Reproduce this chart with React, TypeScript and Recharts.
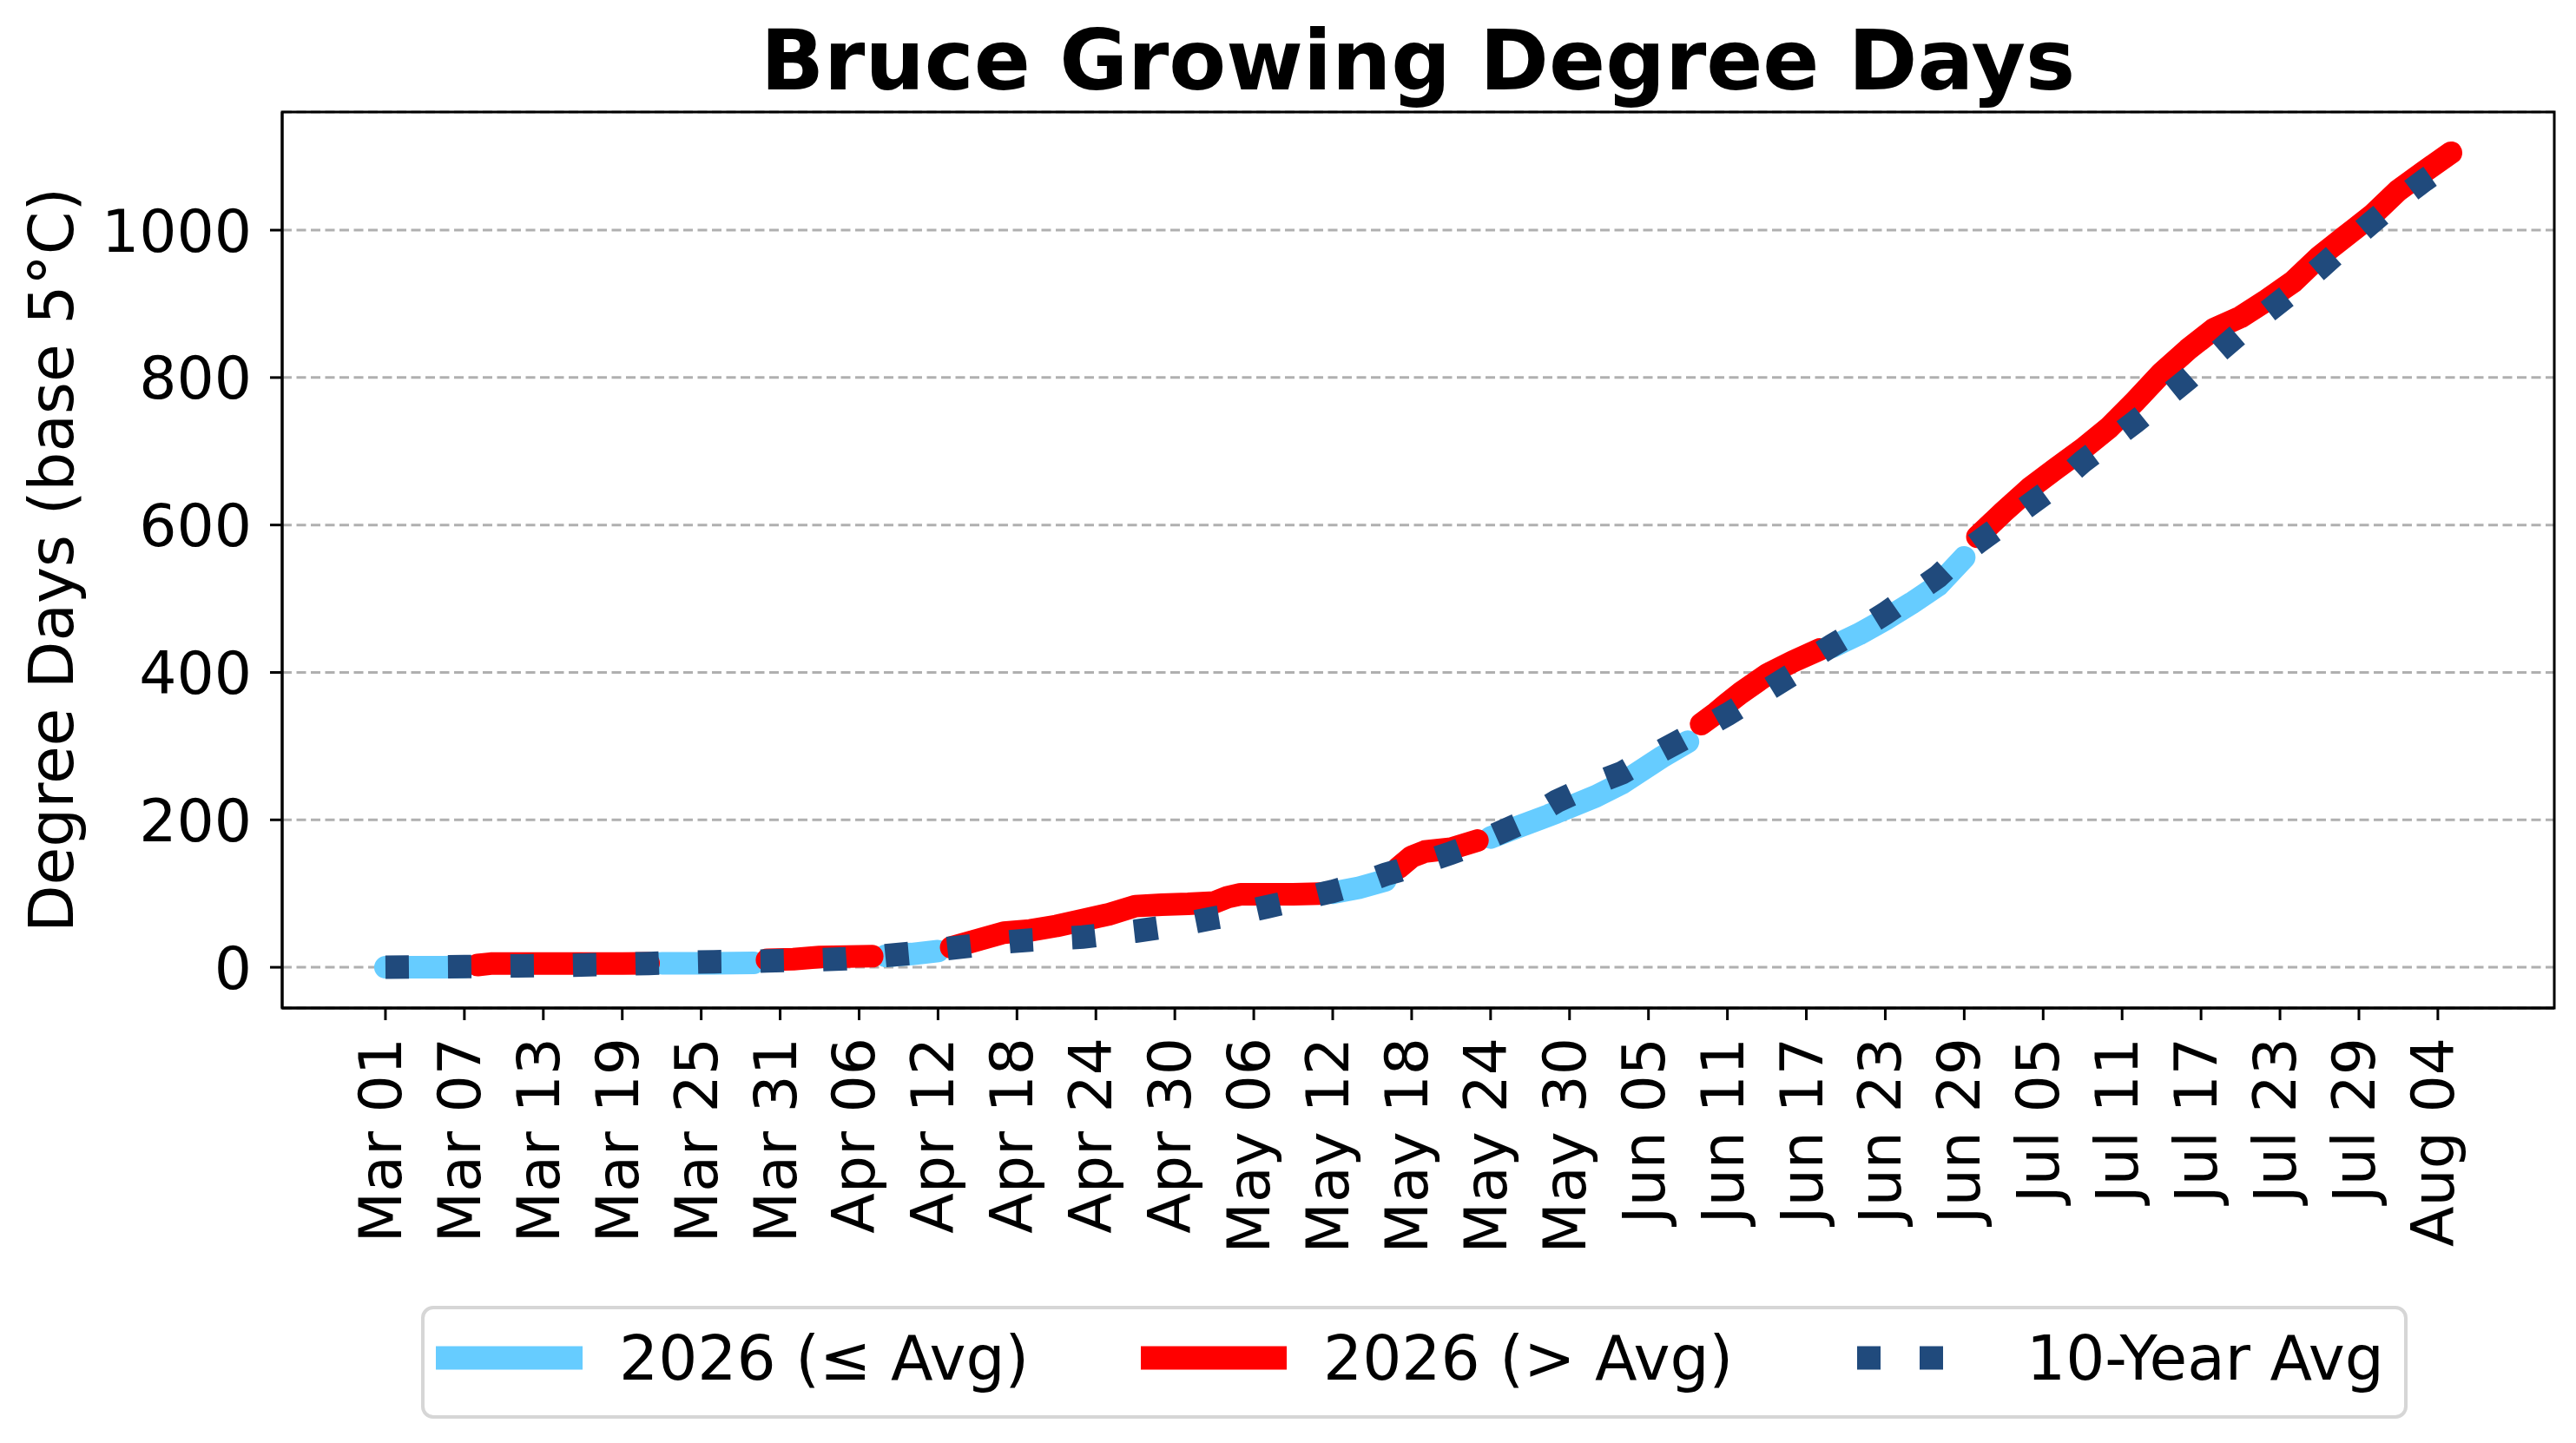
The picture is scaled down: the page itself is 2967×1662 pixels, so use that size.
import React from 'react';
import { LineChart, Line, XAxis, YAxis, CartesianGrid, ReferenceArea } from 'recharts';

// ---- data (day index from Mar 01) ----
const days = [
  0, 3, 6, 7, 8, 10, 14, 18, 20, 21, 25, 28, 29, 31, 33, 35, 37, 38, 40, 42,
  43, 45, 47, 49, 51, 53, 55, 57, 59, 61, 63, 64, 65, 67, 69, 71, 72, 74, 76, 77,
  78, 79, 81, 83, 84, 86, 89, 92, 94, 97, 99, 100, 101, 102, 103, 105, 107, 109, 110, 112,
  114, 116, 118, 120, 121, 123, 125, 127, 129, 131, 133, 135, 137, 139, 141, 143, 145, 147, 149, 151,
  153, 155, 157,
];
const gdd2026 = [
  0, 0, 0.5, 3, 5, 5, 5, 5, 5.5, 5.5, 5.5, 6, 10, 11, 14, 14.5, 15, 15.5, 18, 22,
  27, 37, 47, 50, 56, 64, 72, 83, 85, 86, 88, 95, 99, 99, 99, 100, 101, 108, 118, 135,
  150, 157, 161, 172, 176, 190, 210, 232, 250, 285, 306, 330, 343, 358, 372, 397, 415, 431, 435, 452,
  472, 494, 518, 556, 584, 618, 650, 677, 703, 732, 768, 806, 838, 866, 882, 905, 930, 964, 992, 1020,
  1054, 1080, 1105,
];
const avg10 = [
  0, 0.5, 1, 1.2, 1.4, 2, 2.8, 4.3, 5.1, 5.8, 7.6, 8.3, 8.6, 9.4, 10.2, 11.5, 14, 15.8, 19, 24,
  26, 30, 34, 37, 39, 41, 45, 49, 54, 60, 67, 70, 74, 82, 90, 99, 103, 113, 126, 131,
  137, 143, 155, 168, 177, 193, 225, 250, 264, 294, 313, 323, 333, 343, 354, 376, 398, 426, 437, 458,
  480, 505, 530, 563, 576, 602, 628, 654, 686, 713, 740, 769, 798, 830, 861, 889, 917, 948, 980, 1011,
  1041, 1068, 1093,
];

const xTicks = [0, 6, 12, 18, 24, 30, 36, 42, 48, 54, 60, 66, 72, 78, 84, 90, 96, 102, 108, 114, 120, 126, 132, 138, 144, 150, 156];
const xTickLabels = [
  'Mar 01', 'Mar 07', 'Mar 13', 'Mar 19', 'Mar 25', 'Mar 31', 'Apr 06', 'Apr 12', 'Apr 18', 'Apr 24',
  'Apr 30', 'May 06', 'May 12', 'May 18', 'May 24', 'May 30', 'Jun 05', 'Jun 11', 'Jun 17', 'Jun 23',
  'Jun 29', 'Jul 05', 'Jul 11', 'Jul 17', 'Jul 23', 'Jul 29', 'Aug 04',
];
const yTicks = [0, 200, 400, 600, 800, 1000];

const TITLE = 'Bruce Growing Degree Days';
const Y_LABEL = 'Degree Days (base 5°C)';
const LEGEND_LABELS = ['2026 (≤ Avg)', '2026 (> Avg)', '10-Year Avg'];

// ---- styles ----
const FONT = '"DejaVu Sans", "Liberation Sans", sans-serif';
const BLUE = '#66ccff';
const RED = '#ff0000';
const NAVY = '#204a7c';
const W = 2967;
const H = 1662;

const rows = days.map((d, i) => {
  const g = gdd2026[i];
  const a = avg10[i];
  return {
    day: d,
    below: g <= a ? g : null,
    above: g > a ? g : null,
    avg: a,
  };
});

const xMax = Math.max(...days);
const xMin = Math.min(...days);
const xPad = (xMax - xMin) * 0.05;
const xDomain: [number, number] = [xMin - xPad, xMax + xPad];
const yMaxData = Math.max(...gdd2026, ...avg10);
const yPad = yMaxData * 0.05;
const yDomain: [number, number] = [0 - yPad, yMaxData + yPad];

const XTick = (props: any) => {
  const { x, y, payload } = props;
  const i = xTicks.indexOf(payload.value);
  return (
    <text
      x={x}
      y={y}
      dy={18}
      transform={`rotate(-90, ${x}, ${y})`}
      textAnchor="end"
      fontFamily={FONT}
      fontSize={68}
      fill="#000"
    >
      {i >= 0 ? xTickLabels[i] : ''}
    </text>
  );
};

const YTick = (props: any) => {
  const { x, y, payload } = props;
  return (
    <text x={x} y={y} dy="0.36em" textAnchor="end" fontFamily={FONT} fontSize={68} fill="#000">
      {payload.value}
    </text>
  );
};

const Overlay = () => (
  <svg
    width={W}
    height={H}
    style={{ position: 'absolute', left: 0, top: 0, pointerEvents: 'none' }}
  >
    <text x={1633} y={103} textAnchor="middle" fontFamily={FONT} fontWeight="bold" fontSize={96} fill="#000">
      {TITLE}
    </text>
    <text
      x={84}
      y={645}
      transform="rotate(-90, 84, 645)"
      textAnchor="middle"
      fontFamily={FONT}
      fontSize={71}
      fill="#000"
    >
      {Y_LABEL}
    </text>
    <g>
      <rect x={487} y={1506} width={2284} height={126} rx={12} ry={12} fill="#fff" fillOpacity={0.8} stroke="#d6d6d6" strokeWidth={4} />
      <line x1={502} y1={1564} x2={671} y2={1564} stroke={BLUE} strokeWidth={27} />
      <text x={713} y={1589} fontFamily={FONT} fontSize={71} fill="#000">{LEGEND_LABELS[0]}</text>
      <line x1={1314} y1={1564} x2={1482} y2={1564} stroke={RED} strokeWidth={27} />
      <text x={1524} y={1589} fontFamily={FONT} fontSize={71} fill="#000">{LEGEND_LABELS[1]}</text>
      <line x1={2139} y1={1564} x2={2238} y2={1564} stroke={NAVY} strokeWidth={27} strokeDasharray="27 45" />
      <text x={2334} y={1589} fontFamily={FONT} fontSize={71} fill="#000">{LEGEND_LABELS[2]}</text>
    </g>
  </svg>
);

export default function App() {
  return (
    <div
      style={{
        position: 'absolute',
        left: 0,
        top: 0,
        width: W,
        height: H,
        background: '#fff',
        overflow: 'hidden',
        fontFamily: FONT,
      }}
    >
      <LineChart width={W} height={H} data={rows} margin={{ top: 129, right: 25, bottom: 0, left: 0 }}>
        <CartesianGrid vertical={false} stroke="#b0b0b0" strokeWidth={3} strokeDasharray="11 5.5" />
        <XAxis
          dataKey="day"
          type="number"
          domain={xDomain}
          ticks={xTicks}
          interval={0}
          height={501}
          tickSize={14}
          tickMargin={20}
          tickLine={{ stroke: '#000', strokeWidth: 3 }}
          axisLine={{ stroke: '#000', strokeWidth: 3 }}
          tick={XTick}
          allowDataOverflow
        />
        <YAxis
          type="number"
          domain={yDomain}
          ticks={yTicks}
          interval={0}
          width={325}
          tickSize={14}
          tickMargin={21}
          tickLine={{ stroke: '#000', strokeWidth: 3 }}
          axisLine={{ stroke: '#000', strokeWidth: 3 }}
          tick={YTick}
          allowDataOverflow
        />
        <ReferenceArea
          x1={xDomain[0]}
          x2={xDomain[1]}
          y1={yDomain[0]}
          y2={yDomain[1]}
          fill="none"
          fillOpacity={0}
          stroke="#000"
          strokeWidth={3}
          ifOverflow="visible"
        />
        <Line
          dataKey="below"
          stroke={BLUE}
          strokeWidth={26}
          strokeLinecap="round"
          strokeLinejoin="round"
          dot={false}
          activeDot={false}
          connectNulls={false}
          isAnimationActive={false}
        />
        <Line
          dataKey="above"
          stroke={RED}
          strokeWidth={26}
          strokeLinecap="round"
          strokeLinejoin="round"
          dot={false}
          activeDot={false}
          connectNulls={false}
          isAnimationActive={false}
        />
        <Line
          dataKey="avg"
          stroke={NAVY}
          strokeWidth={27}
          strokeDasharray="27 45"
          strokeLinecap="butt"
          dot={false}
          activeDot={false}
          isAnimationActive={false}
        />
      </LineChart>
      <Overlay />
    </div>
  );
}
